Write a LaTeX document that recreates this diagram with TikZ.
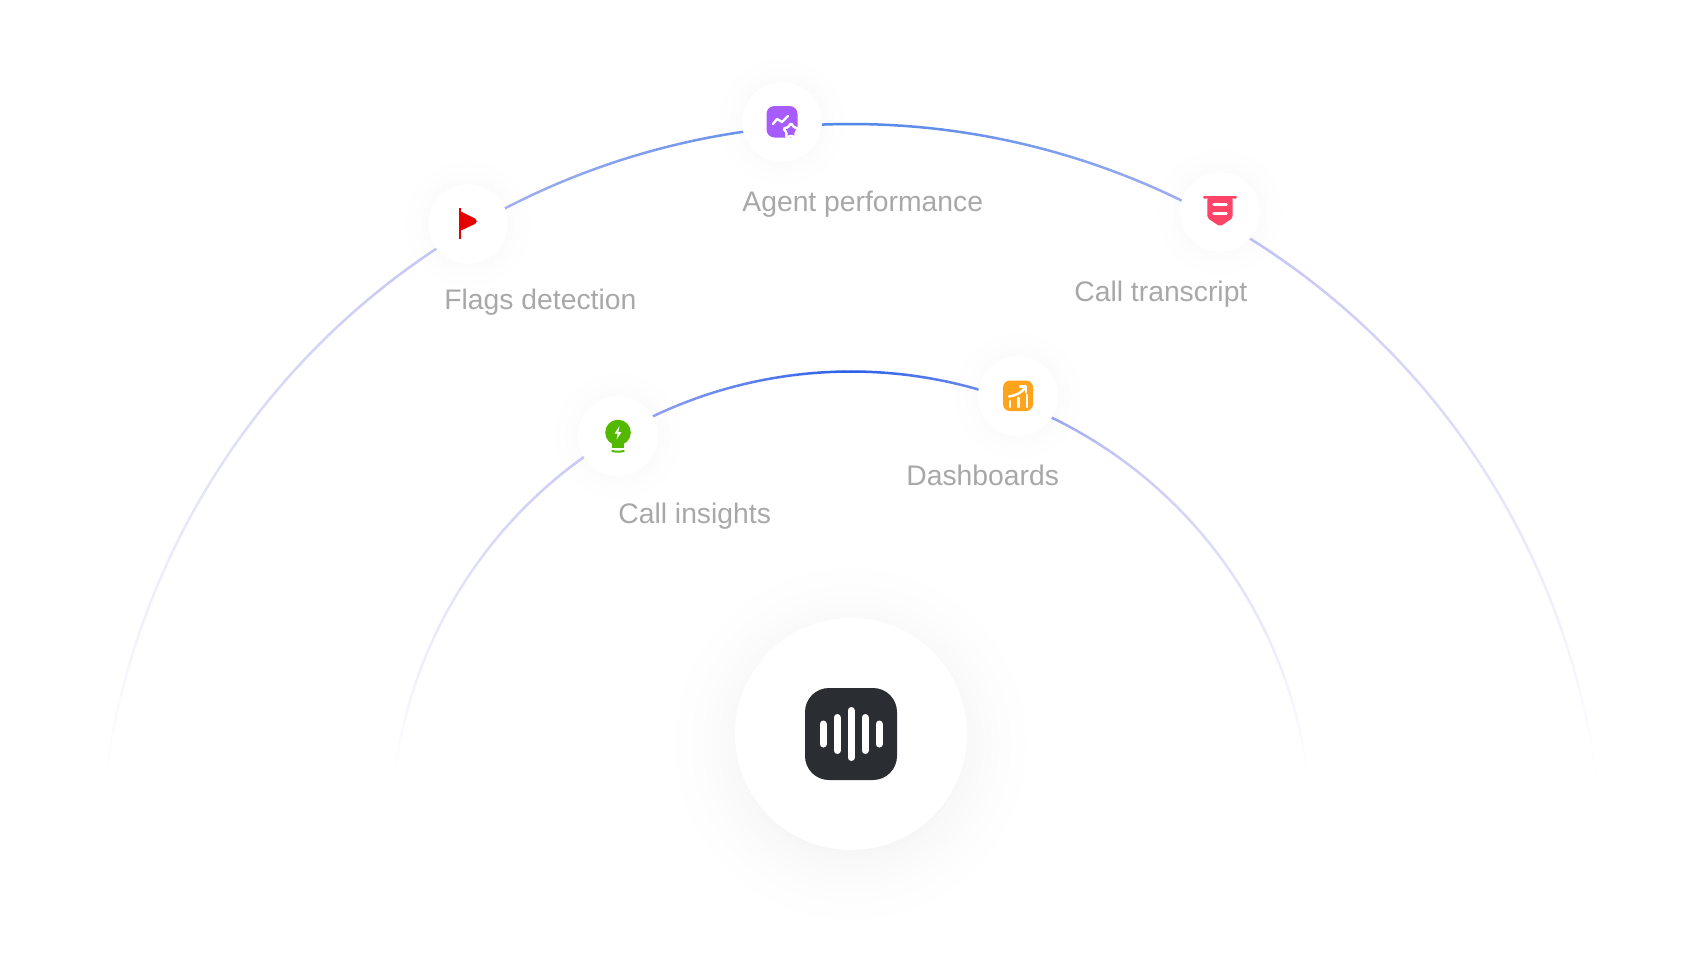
\documentclass[tikz,border=0pt]{standalone}
\usepackage{fontspec}
\setmainfont{Liberation Sans}
\usepackage{xcolor}
\usetikzlibrary{shapes.geometric, calc}
\definecolor{outertop}{HTML}{4F86E8}
\definecolor{innertop}{HTML}{2A5FE8}
\definecolor{arclilac}{HTML}{BDBDF4}
\definecolor{labelgrey}{HTML}{A8A8A8}
\definecolor{agentpurple}{HTML}{A65CFF}
\definecolor{flagred}{HTML}{E60000}
\definecolor{shieldrose}{HTML}{FF4468}
\definecolor{bulbgreen}{HTML}{52B800}
\definecolor{dashorange}{HTML}{FFA31A}
\definecolor{hubdark}{HTML}{2A2D32}
\tikzset{
  badge/.style  = {circle, fill=white, minimum size=40pt, inner sep=0pt},
  hubdisc/.style = {circle, fill=white, minimum size=116pt, inner sep=0pt},
  lbl/.style    = {anchor=west, inner sep=0pt, text=labelgrey, font=\fontsize{14.15}{16}\selectfont},
  wave/.style   = {white, line width=3.5pt, line cap=round},
  glyph/.style  = {white, line width=1.2pt, line cap=round, line join=round},
}
% soft round shadow: centre, disc radius, spread, darkest percent
\newcommand{\softshadow}[4]{%
  \foreach \k in {24,...,1}{
    \pgfmathsetmacro\pct{#4*(1-\k/24)*(1-\k/24)}
    \fill[black!\pct] #1 circle ({#2+#3*\k/24});
  }}
% faded arc: centre x, centre y, radius, top colour
\newcommand{\fadearc}[4]{%
  \foreach \a in {188,...,351}{
    \pgfmathsetmacro\off{abs(\a+0.5-270)}
    \pgfmathsetmacro\mixu{max(0,100-\off/36*100)}
    \pgfmathsetmacro\mixv{min(100,(82-\off)/56*100)}
    \colorlet{arctmp}{#4!\mixu!arclilac}
    \colorlet{arcink}{arctmp!\mixv!white}
    \draw[arcink, line width=1.25pt, line cap=round]
      ($(#1,#2)+(\a:#3)$) -- ($(#1,#2)+(\a+1:#3)$);
  }}

\begin{document}
\begin{tikzpicture}[x=0.5pt, y=-0.5pt]
  \useasboundingbox (0,0) rectangle (1703,975);

  \coordinate (agentpos) at (782,122);
  \coordinate (flagspos) at (468,224);
  \coordinate (transcriptpos) at (1220,212);
  \coordinate (insightspos) at (618,436);
  \coordinate (dashpos) at (1018,396);
  \coordinate (hubpos) at (851,734);

  % shadows
  \softshadow{(851,744)}{100}{95}{4}
  \foreach \p in {agentpos,flagspos,transcriptpos,insightspos,dashpos}{
    \softshadow{(\p)}{34}{40}{2}
  }

  % arcs
  \fadearc{851}{876}{752}{outertop}
  \fadearc{851}{831.5}{460}{innertop}

  % discs
  \node[hubdisc] (hub) at (hubpos) {};
  \node[badge] (agent) at (agentpos) {};
  \node[badge] (flags) at (flagspos) {};
  \node[badge] (transcript) at (transcriptpos) {};
  \node[badge] (insights) at (insightspos) {};
  \node[badge] (dash) at (dashpos) {};

  % labels
  \node[lbl] (agentlbl) at ($(agent)+(-40,82)$) {Agent performance};
  \node[lbl] (flagslbl) at ($(flags)+(-24,78)$) {Flags detection};
  \node[lbl] (transcriptlbl) at ($(transcript)+(-146,82)$) {Call transcript};
  \node[lbl] (dashlbl) at ($(dash)+(-112,79)$) {Dashboards};
  \node[lbl] (insightslbl) at ($(insights)+(0,80)$) {Call insights};

  % hub icon
  \begin{scope}[shift={(hub)}]
    \fill[hubdark, rounded corners=12pt] (-46,-46) rectangle (46,46);
    \draw[wave] (-28,-10) -- (-28,10);
    \draw[wave] (-14,-16.5) -- (-14,16.5);
    \draw[wave] (0,-23.5) -- (0,23.5);
    \draw[wave] (14,-16.5) -- (14,16.5);
    \draw[wave] (28,-10) -- (28,10);
  \end{scope}

  % agent icon
  \begin{scope}[shift={(agent)}]
    \fill[agentpurple, rounded corners=4pt] (-15.5,-16) rectangle (15.5,15.5);
    \draw[glyph] (-9,2) -- (-5,-3) -- (0,0) -- (6,-6);
    \node[star, star points=5, star point ratio=1.7, fill=agentpurple, draw=white, line width=1.2pt,
          minimum size=8pt, inner sep=0pt, rounded corners=0.6pt] (agentstar) at (9,9) {};
  \end{scope}

  % flag icon
  \begin{scope}[shift={(flags)}]
    \fill[flagred] (-9.5,-16) rectangle (-7.3,15);
    \fill[flagred, rounded corners=1pt] (-8,-13) -- (9,-4.5) -- (9,-1) -- (-8,7) -- cycle;
  \end{scope}

  % transcript icon
  \begin{scope}[shift={(transcript)}]
    \fill[shieldrose, rounded corners=0.6pt] (-17,-16) rectangle (17,-13.5);
    \fill[shieldrose, rounded corners=1pt] (-12.7,-14) -- (12.7,-14) -- (12.7,6) -- (0,14.5) -- (-12.7,6) -- cycle;
    \draw[glyph] (-6.5,-7.5) -- (6.5,-7.5);
    \draw[glyph] (-6.5,1.5) -- (6.5,1.5);
  \end{scope}

  % bulb icon
  \begin{scope}[shift={(insights)}]
    \fill[bulbgreen] (0,-3.5) circle (12.8);
    \fill[bulbgreen] (-6.3,3) rectangle (6.3,11.5);
    \draw[bulbgreen, line width=1pt, line cap=round] (-5.8,15) to[bend right=12] (5.8,15);
    \fill[white] (1.5,-10) -- (-3.5,-2.5) -- (-0.3,-2.5) -- (-1.5,3.5) -- (3.5,-4) -- (0.3,-4) -- cycle;
  \end{scope}

  % dashboard icon
  \begin{scope}[shift={(dash)}]
    \fill[dashorange, rounded corners=3.5pt] (-15,-15.5) rectangle (15,15);
    \draw[glyph] (-8,5) -- (-8,11);
    \draw[glyph] (0.3,2) -- (0.3,11);
    \draw[glyph] (8.7,-1) -- (8.7,11);
    \draw[glyph] (-9,0.5) .. controls (-1,-1) and (3,-3) .. (7.5,-8.5);
    \draw[glyph] (2,-9.5) -- (8,-9.5) -- (8,-3.5);
  \end{scope}
\end{tikzpicture}
\end{document}
